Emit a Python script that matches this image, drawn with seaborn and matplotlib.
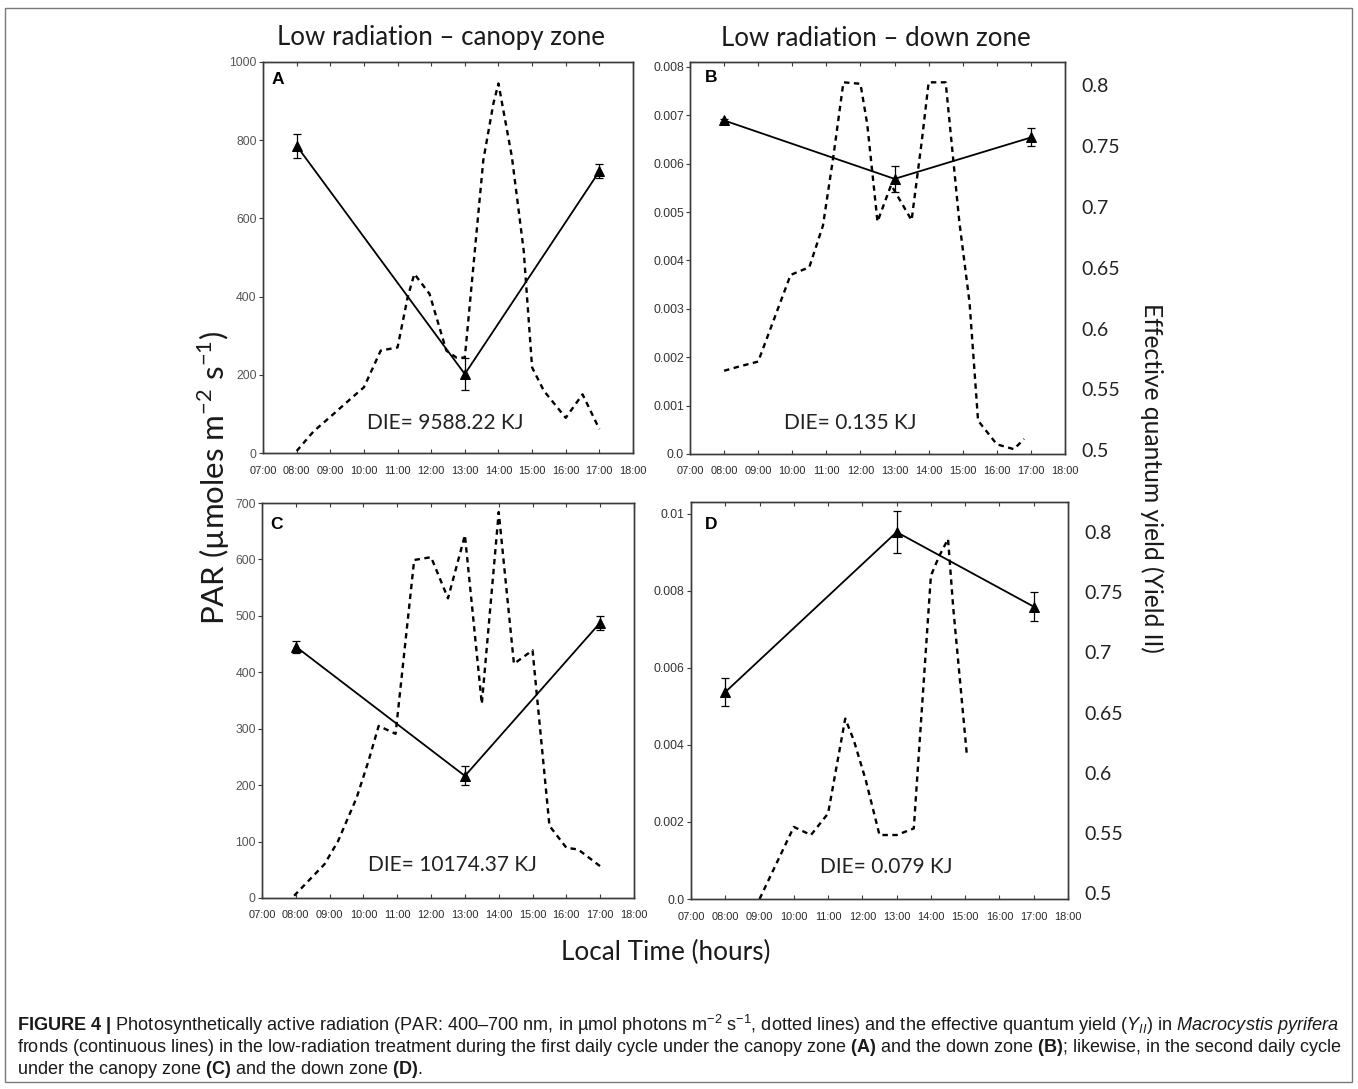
import matplotlib
matplotlib.use("Agg")
import matplotlib.pyplot as plt
from matplotlib import font_manager
from matplotlib.patches import Rectangle
import seaborn as sns
import pandas as pd

# ---------------- data ----------------
hour_ticks = list(range(7, 19))
hour_labels = ["07:00", "08:00", "09:00", "10:00", "11:00", "12:00",
               "13:00", "14:00", "15:00", "16:00", "17:00", "18:00"]

yield_hours = [8, 13, 17]

# A: low radiation, canopy zone, first daily cycle
par_a_hours = [8.0, 8.5, 9.1, 9.65, 10.0, 10.5, 11.0, 11.3, 11.5, 11.95, 12.45, 12.75,
               13.0, 13.55, 13.85, 14.0, 14.4, 14.75, 15.0, 15.35, 16.0, 16.5, 17.0]
par_a = [5, 55, 100, 142, 168, 262, 270, 398, 458, 407, 262, 244,
         244, 749, 894, 945, 757, 518, 219, 159, 90, 150, 61]
yield_a = [0.750, 0.562, 0.729]
yield_a_err = [0.0099, 0.0135, 0.0058]

# B: low radiation, down zone, first daily cycle
par_b_hours = [8.0, 8.4, 9.0, 9.95, 10.5, 10.9, 11.2, 11.5, 12.0, 12.2, 12.5,
               12.9, 13.5, 13.8, 14.0, 14.5, 14.9, 15.2, 15.45, 16.0, 16.5, 16.8]
par_b = [0.00172, 0.00180, 0.00191, 0.00370, 0.00386, 0.00472, 0.00612, 0.00768,
         0.00765, 0.00681, 0.00480, 0.00556, 0.00483, 0.00647, 0.00768, 0.00768,
         0.00480, 0.00313, 0.00069, 0.00020, 0.00010, 0.00031]
yield_b = [0.771, 0.723, 0.757]
yield_b_err = [0.001, 0.0107, 0.0074]

# C: low radiation, canopy zone, second daily cycle
par_c_hours = [7.95, 8.85, 9.25, 9.8, 10.15, 10.45, 10.95, 11.5, 12.0, 12.5,
               13.0, 13.5, 14.0, 14.45, 15.0, 15.5, 16.0, 16.35, 17.05]
par_c = [4, 60, 101, 178, 243, 305, 291, 599, 604, 531,
         643, 344, 684, 415, 439, 128, 89, 86, 54]
yield_c = [0.705, 0.597, 0.725]
yield_c_err = [0.005, 0.008, 0.0059]

# D: low radiation, down zone, second daily cycle
par_d_hours = [9.0, 10.0, 10.5, 11.0, 11.5, 11.75, 12.1, 12.5, 13.0, 13.5,
               14.0, 14.25, 14.5, 14.65, 15.05]
par_d = [0.0, 0.00187, 0.00166, 0.00222, 0.00468, 0.00412, 0.00308, 0.00166,
         0.00166, 0.00183, 0.00839, 0.00891, 0.00934, 0.00757, 0.00373]
yield_d = [0.667, 0.800, 0.738]
yield_d_err = [0.0113, 0.0176, 0.012]

die_labels = ["DIE= 9588.22 KJ", "DIE= 0.135 KJ", "DIE= 10174.37 KJ", "DIE= 0.079 KJ"]
panel_letters = ["A", "B", "C", "D"]
titles = ["Low radiation \u2013 canopy zone", "Low radiation \u2013 down zone"]

par_a_ticks = [0, 200, 400, 600, 800, 1000]
par_a_ticklabels = ["0", "200", "400", "600", "800", "1000"]
par_b_ticks = [0, 0.001, 0.002, 0.003, 0.004, 0.005, 0.006, 0.007, 0.008]
par_b_ticklabels = ["0.0", "0.001", "0.002", "0.003", "0.004", "0.005", "0.006", "0.007", "0.008"]
par_c_ticks = [0, 100, 200, 300, 400, 500, 600, 700]
par_c_ticklabels = ["0", "100", "200", "300", "400", "500", "600", "700"]
par_d_ticks = [0, 0.002, 0.004, 0.006, 0.008, 0.01]
par_d_ticklabels = ["0.0", "0.002", "0.004", "0.006", "0.008", "0.01"]
yield_ticks = [0.5, 0.55, 0.6, 0.65, 0.7, 0.75, 0.8]
yield_ticklabels = ["0.5", "0.55", "0.6", "0.65", "0.7", "0.75", "0.8"]

# ---------------- style ----------------
sns.set_style("ticks")
available = {f.name for f in font_manager.fontManager.ttflist}
cap_font = "Liberation Sans Narrow" if "Liberation Sans Narrow" in available else "Liberation Sans"
plt.rcParams["font.family"] = ["Liberation Sans", "DejaVu Sans"]
plt.rcParams["mathtext.fontset"] = "custom"
plt.rcParams["mathtext.rm"] = cap_font
plt.rcParams["mathtext.it"] = cap_font + ":italic"
plt.rcParams["mathtext.bf"] = cap_font + ":bold"
plt.rcParams["axes.edgecolor"] = "#3a3a3a"
plt.rcParams["axes.linewidth"] = 1.0

W, H = 1358, 1089
fig = plt.figure(figsize=(W / 100, H / 100), dpi=100)
fig.patch.set_facecolor("white")


def add_axes_px(left, top, right, bottom):
    return fig.add_axes([left / W, 1 - bottom / H, (right - left) / W, (bottom - top) / H])


def ftext(x, y, s, **kw):
    return fig.text(x / W, 1 - y / H, s, **kw)


panels = [
    dict(box=(263, 62, 633, 453), hours=par_a_hours, par=par_a, ylim=(0, 1000),
         ticks=par_a_ticks, labels=par_a_ticklabels, yld=yield_a, err=yield_a_err,
         ylim2=(0.497, 0.819), right=False, tick_color="#555555",
         die_pos=(0.492, 0.077), letter_pos=(0.024, 0.974)),
    dict(box=(690, 62, 1065, 454), hours=par_b_hours, par=par_b, ylim=(0, 0.0081),
         ticks=par_b_ticks, labels=par_b_ticklabels, yld=yield_b, err=yield_b_err,
         ylim2=(0.497, 0.819), right=True, tick_color="#333333",
         die_pos=(0.427, 0.079), letter_pos=(0.040, 0.980)),
    dict(box=(262, 503, 634, 898), hours=par_c_hours, par=par_c, ylim=(0, 700),
         ticks=par_c_ticks, labels=par_c_ticklabels, yld=yield_c, err=yield_c_err,
         ylim2=(0.495, 0.825), right=False, tick_color="#555555",
         die_pos=(0.513, 0.084), letter_pos=(0.022, 0.965)),
    dict(box=(691, 502, 1068, 899), hours=par_d_hours, par=par_d, ylim=(0, 0.0103),
         ticks=par_d_ticks, labels=par_d_ticklabels, yld=yield_d, err=yield_d_err,
         ylim2=(0.495, 0.825), right=True, tick_color="#333333",
         die_pos=(0.517, 0.081), letter_pos=(0.037, 0.963)),
]

die_texts = []
for i, p in enumerate(panels):
    ax = add_axes_px(*p["box"])
    par_df = pd.DataFrame({"hour": p["hours"], "par": p["par"]})
    sns.lineplot(data=par_df, x="hour", y="par", ax=ax, color="black",
                 linewidth=1.7, linestyle=(0, (2.3, 1.9)), estimator=None)
    ax.set_xlim(7, 18)
    ax.set_ylim(*p["ylim"])
    ax.set_xticks(hour_ticks)
    ax.set_xticklabels(hour_labels, fontsize=7.9, color="#2a2a2a")
    ax.set_yticks(p["ticks"])
    ax.set_yticklabels(p["labels"], fontsize=8.8, color=p["tick_color"])
    ax.tick_params(axis="x", direction="in", length=3, width=0.8, top=True, pad=9,
                   color="#3a3a3a")
    ax.tick_params(axis="y", direction="out", length=3, width=0.8, pad=1.5,
                   color="#3a3a3a")
    ax.set_xlabel("")
    ax.set_ylabel("")

    ax2 = ax.twinx()
    yld_df = pd.DataFrame({"hour": yield_hours, "yield": p["yld"]})
    sns.lineplot(data=yld_df, x="hour", y="yield", ax=ax2, color="black",
                 linewidth=1.3, marker="^", markersize=7, markeredgecolor="black",
                 markerfacecolor="black", estimator=None)
    ax2.errorbar(yield_hours, p["yld"], yerr=p["err"], fmt="none", ecolor="black",
                 elinewidth=0.9, capsize=3, capthick=0.9)
    ax2.set_ylim(*p["ylim2"])
    ax2.set_xlim(7, 18)
    ax2.set_ylabel("")
    ax2.set_xlabel("")
    if p["right"]:
        ax2.set_yticks(yield_ticks)
        ax2.set_yticklabels(yield_ticklabels, fontsize=14, color="#222222",
                            fontfamily="Lato")
        ax2.tick_params(axis="y", length=0, pad=12)
    else:
        ax2.set_yticks([])
        ax2.tick_params(axis="y", length=0)

    ax.text(*p["letter_pos"], panel_letters[i], transform=ax.transAxes,
            ha="left", va="top", fontsize=12.5, fontweight="bold", color="black")
    t = ax.text(*p["die_pos"], die_labels[i], transform=ax.transAxes,
                ha="center", va="center", fontsize=15, fontfamily="Lato",
                color="#222222")
    die_texts.append(t)

# ---------------- shared labels ----------------
renderer = fig.canvas.get_renderer()


def fit(t, target, along="w"):
    bb = t.get_window_extent(renderer)
    cur = bb.width if along == "w" else bb.height
    t.set_fontsize(t.get_fontsize() * target / cur)


# annotation size follows the widest label
fit(die_texts[0], 157)
for t in die_texts[1:]:
    t.set_fontsize(die_texts[0].get_fontsize())

t_a = ftext(441, 38, titles[0], ha="center", va="center", fontsize=18,
            fontfamily="Lato", color="#1a1a1a")
fit(t_a, 326)
ftext(876, 38, titles[1], ha="center", va="center", fontsize=t_a.get_fontsize(),
      fontfamily="Lato", color="#1a1a1a")

ylab = ftext(214, 478, r"PAR (µmoles m$^{\mathregular{-2}}$ s$^{\mathregular{-1}}$)",
             ha="center", va="center", rotation=90, fontsize=20,
             fontfamily="Lato", color="#1a1a1a")
fit(ylab, 294, along="h")

rlab = ftext(1152, 478, "Effective quantum yield (Yield II)", ha="center",
             va="center", rotation=-90, fontsize=20, fontfamily="Lato",
             color="#1a1a1a")
fit(rlab, 351, along="h")

xlab = ftext(666, 952, "Local Time (hours)", ha="center", va="center",
             fontsize=20, fontfamily="Lato", color="#1a1a1a")
fit(xlab, 209)

# ---------------- caption ----------------
cap1 = (r"$\mathbf{FIGURE\ 4\ |}$ Photosynthetically active radiation (PAR: 400–700 nm, "
        r"in µmol photons m$^{\mathregular{-2}}$ s$^{\mathregular{-1}}$, dotted lines) and the "
        r"effective quantum yield ($Y_{II}$) in $\mathit{Macrocystis\ pyrifera}$")
cap2 = (r"fronds (continuous lines) in the low-radiation treatment during the first daily "
        r"cycle under the canopy zone $\mathbf{(A)}$ and the down zone $\mathbf{(B)}$; "
        r"likewise, in the second daily cycle")
cap3 = r"under the canopy zone $\mathbf{(C)}$ and the down zone $\mathbf{(D)}$."

c1 = ftext(17, 1025, cap1, ha="left", va="center", fontsize=11, fontfamily=cap_font,
           color="#1a1a1a")
fit(c1, 1325)
c2 = ftext(17, 1047, cap2, ha="left", va="center", fontsize=11, fontfamily=cap_font,
           color="#1a1a1a")
fit(c2, 1325)
ftext(17, 1069, cap3, ha="left", va="center", fontsize=c2.get_fontsize(),
      fontfamily=cap_font, color="#1a1a1a")

# outer frame
fig.patches.append(Rectangle((5 / W, 1 - 1082 / H), (1352 - 5) / W, (1082 - 8) / H,
                             transform=fig.transFigure, fill=False,
                             edgecolor="#7a7a7a", linewidth=1.0))

fig.savefig("out.png", dpi=100)
